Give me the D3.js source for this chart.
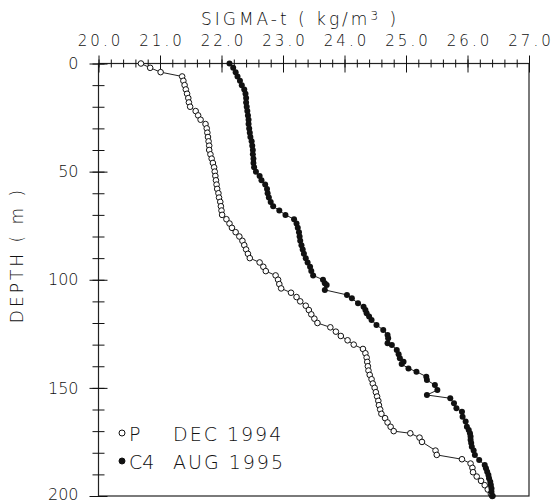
<!DOCTYPE html>
<html>
<head>
<meta charset="utf-8">
<script src="https://cdn.jsdelivr.net/npm/d3@7"></script>
<style>
  body { margin: 0; background: #fff; }
  svg text { font-family: "DejaVu Sans", sans-serif; font-weight: 200; fill: #111; }
</style>
</head>
<body>
<svg id="chart" width="554" height="504"></svg>
<script>
// depth (m) / sigma-t readings for station P, Dec 1994
const pDepth = [0, 2, 4, 6, 8, 10, 12, 14, 16, 18, 20, 22, 24, 26, 28, 30, 32, 34, 36, 38,
  40, 42, 44, 46, 48, 50, 52, 54, 56, 58, 60, 62, 64, 66, 68, 70, 72, 74, 76, 78,
  80, 82, 84, 86, 88, 90, 92, 94, 96, 98, 100, 102, 104, 106, 108, 110, 112, 114, 116, 118,
  120, 122, 124, 126, 128, 130, 132, 134, 136, 138, 140, 142, 144, 146, 148, 150, 152, 154, 156, 158,
  160, 162, 164, 166, 168, 170, 171, 173, 175, 179, 181, 183, 185, 187, 189, 191, 193, 195, 197, 199, 200];
const pSigma = [20.69, 20.84, 21.01, 21.36, 21.38, 21.40, 21.42, 21.44, 21.46, 21.47, 21.49, 21.58, 21.62, 21.66, 21.74, 21.76, 21.77, 21.78, 21.79, 21.80,
  21.80, 21.82, 21.84, 21.86, 21.88, 21.89, 21.90, 21.91, 21.92, 21.93, 21.95, 21.96, 21.98, 21.99, 22.00, 22.01, 22.08, 22.13, 22.17, 22.23,
  22.29, 22.34, 22.37, 22.40, 22.43, 22.46, 22.62, 22.68, 22.72, 22.88, 22.92, 22.94, 22.97, 23.13, 23.22, 23.28, 23.37, 23.42, 23.46, 23.51,
  23.56, 23.77, 23.86, 23.94, 24.05, 24.15, 24.30, 24.34, 24.36, 24.37, 24.38, 24.39, 24.41, 24.44, 24.46, 24.49, 24.51, 24.53, 24.55, 24.56,
  24.58, 24.60, 24.66, 24.70, 24.75, 24.80, 25.07, 25.22, 25.26, 25.48, 25.50, 25.91, 26.05, 26.08, 26.09, 26.15, 26.22, 26.28, 26.33, 26.38, 26.40];

// depth (m) / sigma-t readings for station C4, Aug 1995
const c4Depth = [0, 2, 4, 6, 8, 10, 12, 14, 16, 18, 20, 22, 24, 26, 28, 30, 32, 34, 36, 38,
  40, 42, 44, 46, 48, 50, 52, 54, 56, 58, 60, 62, 64, 66, 68, 70, 72, 74, 76, 78,
  80, 82, 84, 86, 88, 90, 92, 94, 96, 98, 100, 101.6, 102.4, 104.7, 107, 108.6, 110.9, 112.5, 114, 115.5,
  117, 118.6, 120.9, 123.2, 125.5, 127.1, 129.4, 130.2, 132.5, 134.5, 136.3, 137.9, 139, 141, 142.5, 144.8, 146.4, 148.7, 151, 153.3,
  154.8, 157.1, 159.4, 161, 163.3, 165.6, 168, 169.5, 171, 172.5, 174, 175.5, 177.2, 179, 181, 183.4, 185.7, 187.2, 188.8, 190.3,
  191.8, 193.4, 194.9, 196.5, 198, 200];
const c4Sigma = [22.13, 22.19, 22.23, 22.26, 22.30, 22.33, 22.37, 22.39, 22.40, 22.40, 22.41, 22.42, 22.43, 22.44, 22.44, 22.45, 22.46, 22.47, 22.49, 22.50,
  22.51, 22.51, 22.52, 22.52, 22.53, 22.56, 22.62, 22.65, 22.71, 22.74, 22.75, 22.77, 22.80, 22.84, 22.94, 23.04, 23.18, 23.22, 23.24, 23.26,
  23.27, 23.28, 23.30, 23.32, 23.34, 23.37, 23.40, 23.44, 23.46, 23.49, 23.65, 23.68, 23.71, 23.68, 24.04, 24.12, 24.22, 24.31, 24.34, 24.36,
  24.40, 24.44, 24.52, 24.63, 24.70, 24.71, 24.70, 24.77, 24.85, 24.88, 24.90, 24.96, 24.93, 25.04, 25.17, 25.33, 25.34, 25.47, 25.51, 25.34,
  25.72, 25.78, 25.82, 25.91, 25.92, 25.97, 25.99, 26.02, 26.04, 26.05, 26.05, 26.06, 26.07, 26.10, 26.12, 26.19, 26.28, 26.30, 26.32, 26.34,
  26.35, 26.37, 26.38, 26.39, 26.39, 26.41];

const xMajor = [20, 21, 22, 23, 24, 25, 26, 27];
const xTickLabels = ["20.0", "21.0", "22.0", "23.0", "24.0", "25.0", "26.0", "27.0"];
const yMajor = [0, 50, 100, 150, 200];
const legendLabels = [["P", "DEC 1994"], ["C4", "AUG 1995"]];

const svg = d3.select("#chart");
const x = d3.scaleLinear().domain([20, 27]).range([98.5, 529]);
const y = d3.scaleLinear().domain([0, 200]).range([63.5, 496]);

// frame
svg.append("rect")
  .attr("x", x(20)).attr("y", y(0))
  .attr("width", x(27) - x(20)).attr("height", y(200) - y(0))
  .attr("fill", "none").attr("stroke", "#222").attr("stroke-width", 1.2);

// top axis: minor ticks every 0.2, major every 1.0
const xMinor = d3.range(0, 36).map(i => 20 + i * 0.2);
const gxMinor = svg.append("g").attr("transform", `translate(0,${y(0)})`)
  .call(d3.axisTop(x).tickValues(xMinor).tickFormat("").tickSizeOuter(0));
gxMinor.select(".domain").remove();
gxMinor.selectAll(".tick line").attr("y1", 4).attr("y2", -4).attr("stroke", "#111");

const gx = svg.append("g").attr("transform", `translate(0,${y(0)})`)
  .call(d3.axisTop(x).tickValues(xMajor).tickFormat((d, i) => xTickLabels[i]).tickSizeOuter(0).tickPadding(12));
gx.select(".domain").remove();
gx.selectAll(".tick line").attr("y1", 9).attr("y2", -8).attr("stroke", "#111");
gx.selectAll(".tick text")
  .attr("font-family", "DejaVu Sans").attr("font-size", 15)
  .attr("letter-spacing", "3px").attr("dx", "1.5px").attr("fill", "#111");

// left axis: minor every 10 m, major every 50 m
const yMinor = d3.range(0, 21).map(i => i * 10);
const gyMinor = svg.append("g").attr("transform", `translate(${x(20)},0)`)
  .call(d3.axisLeft(y).tickValues(yMinor).tickFormat("").tickSizeOuter(0));
gyMinor.select(".domain").remove();
gyMinor.selectAll(".tick line").attr("x1", 6).attr("x2", -6).attr("stroke", "#111");

const gy = svg.append("g").attr("transform", `translate(${x(20)},0)`)
  .call(d3.axisLeft(y).tickValues(yMajor).tickFormat(d3.format("d")).tickSizeOuter(0).tickPadding(14));
gy.select(".domain").remove();
gy.selectAll(".tick line").attr("x1", 9).attr("x2", -9).attr("stroke", "#111");
gy.selectAll(".tick text")
  .attr("font-family", "DejaVu Sans").attr("font-size", 16).attr("fill", "#111")
  .attr("dy", d => d === 200 ? "0.2em" : "0.32em");

// axis titles
svg.append("text")
  .attr("x", 300).attr("y", 25)
  .attr("text-anchor", "middle").attr("font-size", 17).attr("letter-spacing", "3px")
  .html('SIGMA-t  ( kg/m<tspan font-size="12" dy="-5">3</tspan><tspan dy="5"> )</tspan>');

svg.append("text")
  .attr("transform", `translate(23,255) rotate(-90)`)
  .attr("text-anchor", "middle").attr("font-size", 17).attr("letter-spacing", "3px")
  .text("DEPTH  ( m )");

// profiles
const line = d3.line().x(d => x(d[1])).y(d => y(d[0]));
const pData = pDepth.map((d, i) => [d, pSigma[i]]);
const c4Data = c4Depth.map((d, i) => [d, c4Sigma[i]]);

svg.append("path").attr("d", line(pData))
  .attr("fill", "none").attr("stroke", "#222").attr("stroke-width", 1);
svg.append("path").attr("d", line(c4Data))
  .attr("fill", "none").attr("stroke", "#222").attr("stroke-width", 1);

svg.append("g").selectAll("circle").data(pData).join("circle")
  .attr("cx", d => x(d[1])).attr("cy", d => y(d[0])).attr("r", 2.8)
  .attr("fill", "#fff").attr("stroke", "#111").attr("stroke-width", 1);
svg.append("g").selectAll("circle").data(c4Data).join("circle")
  .attr("cx", d => x(d[1])).attr("cy", d => y(d[0])).attr("r", 3)
  .attr("fill", "#111");

// legend
const leg = svg.append("g");
legendLabels.forEach((l, i) => {
  const ly = 434 + i * 28;
  leg.append("circle").attr("cx", 122).attr("cy", ly - 1).attr("r", 3)
    .attr("fill", i === 0 ? "#fff" : "#111").attr("stroke", "#111").attr("stroke-width", 1);
  leg.append("text").attr("x", 129).attr("y", ly + 7).attr("font-size", 19).text(l[0]);
  leg.append("text").attr("x", 173).attr("y", ly + 7).attr("font-size", 19)
    .attr("letter-spacing", "2px").text(l[1]);
});
</script>
</body>
</html>
